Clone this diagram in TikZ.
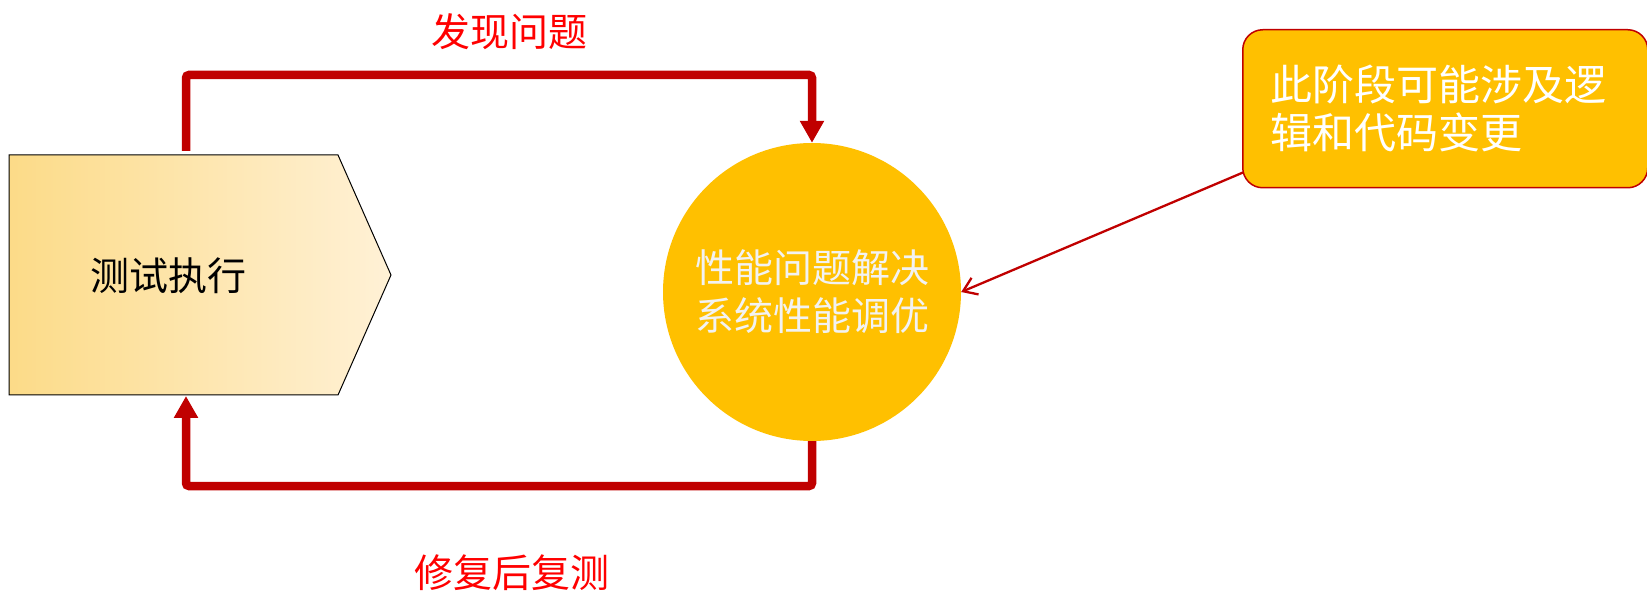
\documentclass[tikz,border=0pt]{standalone}
\usepackage{fontspec}
\newfontfamily\cjk{Noto Sans CJK SC}
\usetikzlibrary{arrows.meta,calc}
\definecolor{gold}{HTML}{FFC000}
\definecolor{darkred}{HTML}{C00000}
\definecolor{lblred}{HTML}{FF0000}
\definecolor{padleft}{HTML}{FCDB88}
\definecolor{padright}{HTML}{FFF1D6}
\definecolor{softwhite}{HTML}{F2F2F2}
\tikzset{
  cjktext/.style={font=\cjk\fontsize{39}{48}\selectfont},
  loop/.style={draw=darkred, line width=8.5pt, rounded corners=3pt, -{Triangle[width=23pt,length=22pt]}},
  lbl/.style={cjktext, text=lblred, inner sep=0pt},
  note/.style={draw=darkred, line width=1.5pt, fill=gold, rounded corners=20pt, text=white,
     font=\cjk\fontsize{42}{48}\selectfont, align=left, inner xsep=28pt, inner ysep=0pt,
     minimum width=405pt, minimum height=158pt, text width=349pt},
  pointer/.style={draw=darkred, line width=2.3pt, -{Straight Barb[length=13pt,width=18pt]}}
}
\begin{document}
\begin{tikzpicture}[x=1pt,y=-1pt]
\useasboundingbox (0,0) rectangle (1647,593);
% pentagon
\path[left color=padleft, right color=padright, draw=black, line width=1pt]
  (9,155) -- (338,155) -- (391,275) -- (338,395) -- (9,395) -- cycle;
\node[cjktext, inner sep=0pt] (test) at (168,276) {测试执行};
\coordinate (tTop) at (186,151);
\coordinate (tBot) at (186,396);
% circle
\node[circle, fill=gold, minimum size=298pt, inner sep=0pt, cjktext, text=softwhite, align=center] (c) at (812,292) {性能问题解决\\系统性能调优};
% loops
\draw[loop] (tTop) -- (186,75) -| (c.north);
\draw[loop] (c.south) |- (186,486) -- (tBot);
% labels
\node[lbl] (find) at (509,32) {发现问题};
\node[lbl] (fix) at (512,573) {修复后复测};
% callout
\node[note, anchor=north west] (co) at (1242,29) {此阶段可能涉及逻\\辑和代码变更\\[10pt]};
\draw[pointer] ($(co.south west)+(1,-16)$) -- (c.east);
\end{tikzpicture}
\end{document}
